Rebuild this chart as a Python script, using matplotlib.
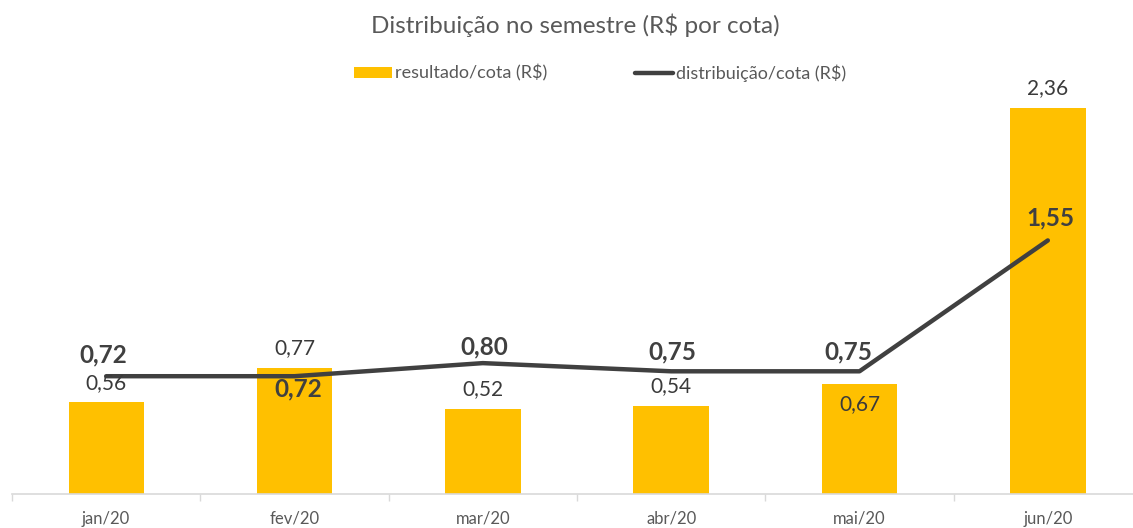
import numpy as np
import matplotlib
matplotlib.use("Agg")
import matplotlib.pyplot as plt

# data
meses = ["jan/20", "fev/20", "mar/20", "abr/20", "mai/20", "jun/20"]
resultado = [0.56, 0.77, 0.52, 0.54, 0.67, 2.36]
distribuicao = [0.72, 0.72, 0.80, 0.75, 0.75, 1.55]

# label offsets in points (dx, dy) - layout only
off_bar = [(0, 14), (0, 14), (0, 14), (0, 14), (0, -14), (0, 14)]
off_line = [(-2, 15), (3, -9), (1, 12), (1, 14), (-8, 14), (2, 16)]

plt.rcParams['font.family'] = ['Lato', 'DejaVu Sans']

AMARELO = "#FFC000"
CINZA_ESC = "#404040"
CINZA_TXT = "#595959"


def fmt(v):
    return f"{v:.2f}".replace(".", ",")


fig = plt.figure(figsize=(11.33, 5.28), dpi=100)
ax = fig.add_axes([12 / 1133, 34 / 528, 1130 / 1133, 434 / 528])

x = np.arange(len(meses))
bars = ax.bar(x, resultado, width=0.4, color=AMARELO, label="resultado/cota (R$)", zorder=2)
line, = ax.plot(x, distribuicao, color=CINZA_ESC, lw=3.2, solid_capstyle="round",
                solid_joinstyle="round", label="distribuição/cota (R$)", zorder=3)

# bar labels
for xi, v, (dx, dy) in zip(x, resultado, off_bar):
    ax.annotate(fmt(v), (xi, v), xytext=(dx, dy), textcoords="offset points",
                ha="center", va="center", fontsize=15, color="#3a3a3a", zorder=4)

# line labels
for xi, v, (dx, dy) in zip(x, distribuicao, off_line):
    ax.annotate(fmt(v), (xi, v), xytext=(dx, dy), textcoords="offset points",
                ha="center", va="center", fontsize=17.5, fontweight="bold",
                color=CINZA_ESC, zorder=4)

ax.set_xlim(-0.5, len(meses) - 0.5)
ax.set_ylim(0, 434 / 163.6)
ax.set_yticks([])
ax.set_xticks(x)
ax.set_xticklabels(meses, fontsize=12, color=CINZA_TXT)
ax.tick_params(axis="x", which="major", length=0, pad=12)
ax.set_xticks(np.arange(-0.5, len(meses)), minor=True)
ax.tick_params(axis="x", which="minor", length=5, color="#d9d9d9", width=1)
for s in ["top", "right", "left"]:
    ax.spines[s].set_visible(False)
ax.spines["bottom"].set_color("#d9d9d9")
ax.spines["bottom"].set_linewidth(1.2)

fig.text(575 / 1133, 1 - 25 / 528, "Distribuição no semestre (R$ por cota)",
         ha="center", va="center", fontsize=17.5, color=CINZA_TXT)

fig.legend(handles=[bars, line], loc="center", bbox_to_anchor=(600 / 1133, 1 - 73 / 528),
           ncol=2, frameon=False, fontsize=13, labelcolor=CINZA_TXT,
           handlelength=2.1, handleheight=0.55, handletextpad=0.15, columnspacing=4.9)

fig.savefig("out.png", dpi=100)
